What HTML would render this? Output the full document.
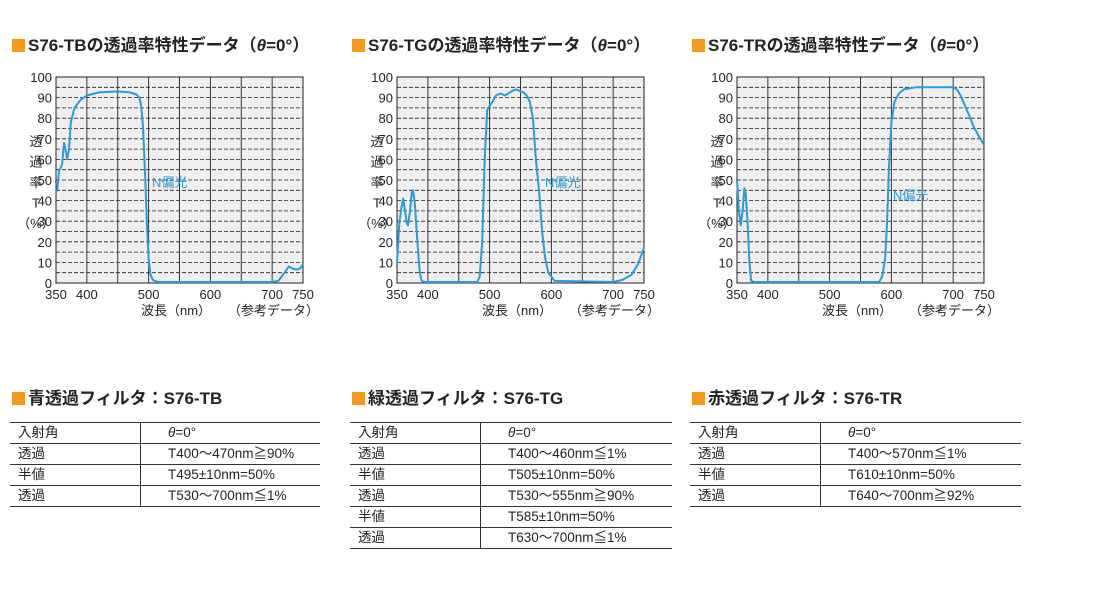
<!DOCTYPE html>
<html><head><meta charset="utf-8">
<style>
body{margin:0;width:1100px;height:602px;background:#fff;font-family:"Liberation Sans","Noto Sans CJK JP",sans-serif;position:relative;overflow:hidden;color:#222}
.h{position:absolute;font-weight:bold;font-size:17px;white-space:nowrap;color:#222}
.h .sq{display:inline-block;width:13px;height:13px;background:#f39a1e;margin-right:3px;vertical-align:-1px}
table{position:absolute;border-collapse:collapse;font-size:13.5px}
td{border-top:1px solid #333;border-bottom:1px solid #333;height:20px;padding:0 0 0 8px;line-height:20px}
td.c1{border-right:1px solid #333}
td.c2{padding-left:27px}
svg{position:absolute;left:0;top:0}
</style></head><body>
<div class="h" style="left:12px;top:31px"><span class="sq"></span>S76-TBの透過率特性データ（<i>θ</i>=0°）</div>
<div class="h" style="left:352px;top:31px"><span class="sq"></span>S76-TGの透過率特性データ（<i>θ</i>=0°）</div>
<div class="h" style="left:692px;top:31px"><span class="sq"></span>S76-TRの透過率特性データ（<i>θ</i>=0°）</div>

<svg id="charts" width="1100" height="330"></svg>

<div class="h" style="left:12px;top:384px"><span class="sq"></span>青透過フィルタ：S76-TB</div>
<div class="h" style="left:352px;top:384px"><span class="sq"></span>緑透過フィルタ：S76-TG</div>
<div class="h" style="left:692px;top:384px"><span class="sq"></span>赤透過フィルタ：S76-TR</div>

<table style="left:10px;top:422px;width:310px">
<tr><td class="c1" style="width:122px">入射角</td><td class="c2"><i>θ</i>=0°</td></tr>
<tr><td class="c1">透過</td><td class="c2">T400～470nm≧90%</td></tr>
<tr><td class="c1">半値</td><td class="c2">T495±10nm=50%</td></tr>
<tr><td class="c1">透過</td><td class="c2">T530～700nm≦1%</td></tr>
</table>
<table style="left:350px;top:422px;width:322px">
<tr><td class="c1" style="width:122px">入射角</td><td class="c2"><i>θ</i>=0°</td></tr>
<tr><td class="c1">透過</td><td class="c2">T400～460nm≦1%</td></tr>
<tr><td class="c1">半値</td><td class="c2">T505±10nm=50%</td></tr>
<tr><td class="c1">透過</td><td class="c2">T530～555nm≧90%</td></tr>
<tr><td class="c1">半値</td><td class="c2">T585±10nm=50%</td></tr>
<tr><td class="c1">透過</td><td class="c2">T630～700nm≦1%</td></tr>
</table>
<table style="left:690px;top:422px;width:331px">
<tr><td class="c1" style="width:122px">入射角</td><td class="c2"><i>θ</i>=0°</td></tr>
<tr><td class="c1">透過</td><td class="c2">T400～570nm≦1%</td></tr>
<tr><td class="c1">半値</td><td class="c2">T610±10nm=50%</td></tr>
<tr><td class="c1">透過</td><td class="c2">T640～700nm≧92%</td></tr>
</table>

<script>
const xTicks=[350,400,500,600,700,750];
const yTicks=[0,10,20,30,40,50,60,70,80,90,100];
const tbWl=[350,352,355,358,360,363,366,368,371,374,380,390,400,420,450,470,480,485,488,491,494,497,500,503,507,515,700,710,720,727,733,740,745,750];
const tbT=[44,45,55,56,58,68,64,60,65,78,85,89,91,92.5,93,92.5,91.5,90,86,75,55,30,12,4,1.5,0.5,0.5,1,5,8,7,6.5,7,9];
const tgWl=[350,354,358,360,363,366,368,371,374,376,379,383,387,390,395,480,484,488,492,496,500,505,510,518,525,530,538,543,550,555,560,565,570,575,580,585,590,595,605,700,715,730,740,750];
const tgT=[10,30,38,41,35,29,28,35,44,45,38,20,5,1,0.5,0.5,3,20,60,84,86,88,91,92,91,92,93.5,94,93,92.5,91,88,80,60,45,25,12,5,1,0.5,1.5,4,9,17];
const trWl=[350,353,356,359,362,364,367,370,373,378,580,585,590,593,596,600,605,612,620,640,680,700,706,712,718,725,733,742,750];
const trT=[50,35,28,35,46,44,30,10,1,0.5,0.5,3,12,30,55,78,88,92,94,95,95,95,94,91,87,82,76,71,67];
const charts=[{id:'tb',x0:56,wl:tbWl,t:tbT,lx:152,ly:187},{id:'tg',x0:397,wl:tgWl,t:tgT,lx:545,ly:187},{id:'tr',x0:737,wl:trWl,t:trT,lx:893,ly:200}];
const NS='http://www.w3.org/2000/svg';
const svg=document.getElementById('charts');
const W=247,Y0=77,Y1=283;
function mk(tag,attrs,parent){const e=document.createElementNS(NS,tag);for(const k in attrs)e.setAttribute(k,attrs[k]);(parent||svg).appendChild(e);return e;}
charts.forEach(c=>{
  const sx=v=>c.x0+(v-350)/400*W;
  const sy=v=>Y1-(v/100)*(Y1-Y0);
  const g=mk('g',{});
  
  
  const bg=mk('rect',{x:c.x0,y:Y0,width:W,height:Y1-Y0,fill:'#efefef',stroke:'#222','stroke-width':1},g);
  
  
  for(let v=5;v<100;v+=5){
    const l=mk('line',{x1:c.x0,x2:c.x0+W,y1:sy(v),y2:sy(v),stroke:'#222','stroke-width':0.8,'stroke-dasharray':'4,2'},g);
    
    
  }
  for(let v=400;v<750;v+=50){
    const l=mk('line',{x1:sx(v),x2:sx(v),y1:Y0,y2:Y1,stroke:'#222','stroke-width':0.9},g);
    
    
  }
  yTicks.forEach(v=>{
    const t=mk('text',{x:c.x0-4,y:sy(v)+5,'text-anchor':'end','font-size':13,fill:'#222'},g);
    t.textContent=v;
    
    
  });
  xTicks.forEach(v=>{
    const t=mk('text',{x:sx(v),y:Y1+16,'text-anchor':'middle','font-size':13,fill:'#222'},g);
    t.textContent=v;
    
    
  });
  const yl=['透','過','率','T','（%）'];
  yl.forEach((s,i)=>{
    const t=mk('text',{x:c.x0-20,y:146+i*20.5,'text-anchor':'middle','font-size':13,fill:'#222'},g);
    t.textContent=s;
    
    
  });
  const xl=mk('text',{x:c.x0+85,y:315,'font-size':13,fill:'#222'},g);
  xl.textContent='波長（nm）';
  
  
  const rf=mk('text',{x:c.x0+172,y:315,'font-size':13,fill:'#222'},g);
  rf.textContent='（参考データ）';
  
  
  const d=c.wl.map((w,i)=>(i?'L':'M')+sx(w).toFixed(1)+','+sy(c.t[i]).toFixed(1)).join('');
  const p=mk('path',{d:d,fill:'none',stroke:'#2a9bd6','stroke-width':2,'stroke-linejoin':'round'},g);
  
  
  const lb=mk('text',{x:c.lx,y:c.ly,'font-size':13,fill:'#2a9bd6'},g);
  lb.textContent='N偏光';
  
  
});
</script>
</body></html>
